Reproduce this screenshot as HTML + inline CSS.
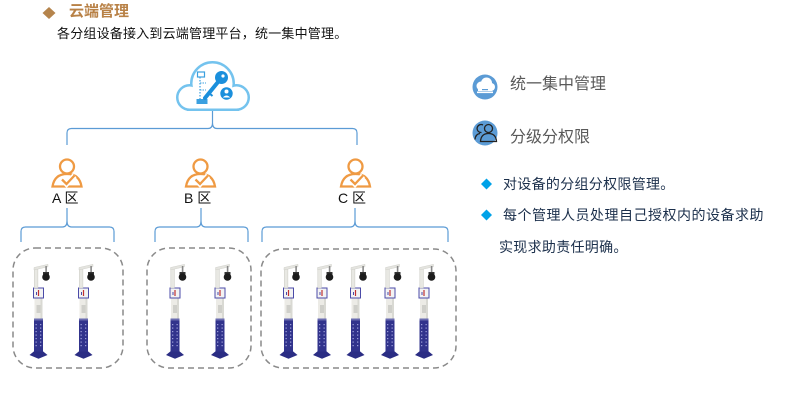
<!DOCTYPE html>
<html><head><meta charset="utf-8">
<style>
html,body{margin:0;padding:0;background:#fff;}
body{width:794px;height:408px;position:relative;overflow:hidden;font-family:"Liberation Sans","Noto Sans CJK SC",sans-serif;}
.t{position:absolute;white-space:nowrap;line-height:1;}
svg{position:absolute;left:0;top:0;}
</style></head>
<body>
<svg width="794" height="408" viewBox="0 0 794 408" xmlns="http://www.w3.org/2000/svg">
<defs>
  <g id="pillar">
    <polygon points="-9,355 -3.5,350.5 3.5,350.5 9,355 0,358.8" fill="#2b2d84"/>
    <rect x="-4.5" y="320" width="9" height="31.5" fill="#31338c"/>
    <g fill="#9a9cd8">
      <rect x="-3" y="324" width="1.3" height="1.2"/><rect x="1.5" y="324" width="1.3" height="1.2"/>
      <rect x="-3" y="327.5" width="1.3" height="1.2"/><rect x="1.5" y="327.5" width="1.3" height="1.2"/>
      <rect x="-3" y="331" width="1.3" height="1.2"/><rect x="1.5" y="331" width="1.3" height="1.2"/>
      <rect x="-3" y="334.5" width="1.3" height="1.2"/><rect x="1.5" y="334.5" width="1.3" height="1.2"/>
      <rect x="-3" y="338" width="1.3" height="1.2"/><rect x="1.5" y="338" width="1.3" height="1.2"/>
      <rect x="-3" y="341.5" width="1.3" height="1.2"/><rect x="1.5" y="341.5" width="1.3" height="1.2"/>
      <rect x="-3" y="345" width="1.3" height="1.2"/><rect x="1.5" y="345" width="1.3" height="1.2"/>
    </g>
    <rect x="-4" y="298" width="8" height="22" fill="#ecebe6"/>
    <rect x="2" y="298" width="2" height="22" fill="#d9d9d3"/>
    <rect x="-2" y="305" width="4" height="8" fill="#cfcfca"/>
    <rect x="-4.5" y="318.5" width="9" height="2" fill="#6a6cb0"/>
    <rect x="-5" y="288" width="10" height="10" fill="#f3f3f3" stroke="#4b4ba8" stroke-width="1"/>
    <rect x="-0.6" y="290" width="1.2" height="6" fill="#c03030"/>
    <rect x="-2.5" y="292" width="1" height="3" fill="#4b4ba8"/>
    <rect x="-4.2" y="268.5" width="3.6" height="19.5" fill="#e8e8e3" stroke="#cacac4" stroke-width="0.5"/>
    <polygon points="-4.5,270 -4.5,267.5 9.5,264.3 9.5,266.8" fill="#e4e4df" stroke="#cacac4" stroke-width="0.4"/>
    <rect x="6.8" y="266" width="1.6" height="7" fill="#888"/>
    <rect x="4.5" y="272" width="6" height="2.5" fill="#333"/>
    <circle cx="7.5" cy="277" r="3.8" fill="#1c1c1c"/>
  </g>
</defs>

<polygon points="49,7 55.5,13 49,19 42.5,13" fill="#b5844c"/>

<g fill="none" stroke="#74c3ee" stroke-width="5">
  <circle cx="189.5" cy="97.5" r="11"/>
  <circle cx="212.5" cy="83.5" r="20"/>
  <circle cx="236.5" cy="97.5" r="11"/>
  <rect x="189.5" y="90" width="47" height="18.5"/>
</g>
<g fill="#fff">
  <circle cx="189.5" cy="97.5" r="11"/>
  <circle cx="212.5" cy="83.5" r="20"/>
  <circle cx="236.5" cy="97.5" r="11"/>
  <rect x="189.5" y="90" width="47" height="18.5"/>
</g>
<rect x="197.5" y="72" width="7" height="5" fill="none" stroke="#3ba0e0" stroke-width="1.2"/>
<line x1="200" y1="77" x2="200" y2="99" stroke="#3ba0e0" stroke-width="1.2" stroke-dasharray="1.5 1.5"/>
<line x1="200" y1="83" x2="206" y2="83" stroke="#3ba0e0" stroke-width="1" stroke-dasharray="1.5 1"/>
<line x1="200" y1="90" x2="206" y2="90" stroke="#3ba0e0" stroke-width="1" stroke-dasharray="1.5 1"/>
<rect x="196.5" y="99" width="11" height="5" fill="#3ba0e0"/>
<line x1="205" y1="98" x2="218" y2="82" stroke="#1a8fdc" stroke-width="4" stroke-linecap="round"/>
<line x1="209" y1="93" x2="212.5" y2="96" stroke="#1a8fdc" stroke-width="2"/>
<circle cx="221.5" cy="77.5" r="6.5" fill="#1a8fdc"/>
<circle cx="223" cy="76" r="1.6" fill="#fff"/>
<circle cx="226.5" cy="93.5" r="7" fill="#fff"/>
<circle cx="226.5" cy="93.5" r="6.2" fill="#1a8fdc"/>
<circle cx="226.5" cy="91.5" r="2" fill="#fff"/>
<path d="M222.8,97.5 Q226.5,93.5 230.2,97.5 Z" fill="#fff"/>

<g fill="none" stroke="#5b9bd5" stroke-width="1.2">
  <line x1="212.5" y1="111" x2="212.5" y2="123"/>
  <path d="M67,145 V133 Q67,128.5 71.5,128.5 H208 Q212.5,128.5 212.5,123 Q212.5,128.5 217,128.5 H352.5 Q357,128.5 357,133 V145"/>
  <path d="M21,242 V231.5 Q21,227 25.5,227 H62.5 Q67,227 67,221 Q67,227 71.5,227 H109.5 Q114,227 114,231.5 V242 M67,221 V208"/>
  <path d="M155,242 V231.5 Q155,227 159.5,227 H196.5 Q201,227 201,221 Q201,227 205.5,227 H243.5 Q248,227 248,231.5 V242 M201,221 V208"/>
  <path d="M262,242 V231.5 Q262,227 266.5,227 H350.5 Q355,227 355,221 Q355,227 359.5,227 H443.5 Q448,227 448,231.5 V242 M355,221 V208"/>
</g>

<g fill="none" stroke="#ef9a43" stroke-width="2.3">
  <g transform="translate(67,0)">
    <circle cx="0" cy="166.5" r="7"/>
    <path d="M-14.5,186.5 Q-12.5,174 0,174 Q12.5,174 14.5,186.5 Z"/>
    <path d="M-5,179.5 L-0.5,184 L7.5,175.5" stroke="#fff" stroke-width="5.5"/>
    <path d="M-5,179.5 L-0.5,184 L7.5,175.5"/>
  </g>
  <g transform="translate(200.5,0)">
    <circle cx="0" cy="166.5" r="7"/>
    <path d="M-14.5,186.5 Q-12.5,174 0,174 Q12.5,174 14.5,186.5 Z"/>
    <path d="M-5,179.5 L-0.5,184 L7.5,175.5" stroke="#fff" stroke-width="5.5"/>
    <path d="M-5,179.5 L-0.5,184 L7.5,175.5"/>
  </g>
  <g transform="translate(355.5,0)">
    <circle cx="0" cy="166.5" r="7"/>
    <path d="M-14.5,186.5 Q-12.5,174 0,174 Q12.5,174 14.5,186.5 Z"/>
    <path d="M-5,179.5 L-0.5,184 L7.5,175.5" stroke="#fff" stroke-width="5.5"/>
    <path d="M-5,179.5 L-0.5,184 L7.5,175.5"/>
  </g>
</g>

<g fill="none" stroke="#8a8a8a" stroke-width="1.5" stroke-dasharray="6 4">
  <rect x="13" y="248" width="110" height="120" rx="22"/>
  <rect x="147" y="248" width="104" height="120" rx="22"/>
  <rect x="261" y="249" width="195" height="119" rx="22"/>
</g>

<use href="#pillar" x="38.5"/>
<use href="#pillar" x="83.5"/>
<use href="#pillar" x="175"/>
<use href="#pillar" x="220"/>
<use href="#pillar" x="288.5"/>
<use href="#pillar" x="322"/>
<use href="#pillar" x="355.5"/>
<use href="#pillar" x="390"/>
<use href="#pillar" x="424"/>

<circle cx="485" cy="87" r="12.5" fill="#5b9bd5"/>
<g fill="#fff">
  <circle cx="481" cy="86" r="4.5"/>
  <circle cx="486.5" cy="83" r="5.5"/>
  <circle cx="491" cy="87" r="4"/>
  <rect x="478" y="86" width="14" height="5"/>
</g>
<rect x="477" y="91.5" width="16" height="1.6" fill="#fff"/>
<rect x="482" y="89" width="6" height="1.2" fill="#5b9bd5"/>
<circle cx="485" cy="133" r="12.5" fill="#5b9bd5"/>
<g fill="none" stroke="#222" stroke-width="1.3">
  <circle cx="488.5" cy="128.5" r="4"/>
  <path d="M480.5,141.5 Q481,133.5 488.5,133.5 Q496,133.5 496.5,141.5 Z"/>
  <path d="M481.5,132.5 A4,4 0 1 1 483,125"/>
  <path d="M475,139.5 Q475.5,134 480,133.5"/>
</g>

<polygon points="486.5,178.5 492,184 486.5,189.5 481,184" fill="#00a2e8"/>
<polygon points="486.5,209.5 492,215 486.5,220.5 481,215" fill="#00a2e8"/>
</svg>

<div class="t" style="left:69px;top:4px;font-size:15px;color:#b88146;font-weight:bold;">云端管理</div>
<div class="t" style="left:57px;top:26.5px;font-size:13px;letter-spacing:0.2px;color:#111;">各分组设备接入到云端管理平台，统一集中管理。</div>

<div class="t" style="left:52px;top:191px;font-size:14px;color:#111;">A 区</div>
<div class="t" style="left:184px;top:191px;font-size:14px;color:#111;">B 区</div>
<div class="t" style="left:338px;top:191px;font-size:14px;color:#111;">C 区</div>

<div class="t" style="left:510px;top:77px;font-size:16px;color:#595959;">统一集中管理</div>
<div class="t" style="left:510px;top:130px;font-size:16px;color:#595959;">分级分权限</div>

<div class="t" style="left:503px;top:177px;font-size:14px;letter-spacing:0.3px;color:#1b2f4b;">对设备的分组分权限管理。</div>
<div class="t" style="left:503px;top:208px;font-size:14px;letter-spacing:0.5px;color:#1b2f4b;">每个管理人员处理自己授权内的设备求助</div>
<div class="t" style="left:499px;top:240px;font-size:14px;letter-spacing:0.3px;color:#1b2f4b;">实现求助责任明确。</div>
</body></html>
